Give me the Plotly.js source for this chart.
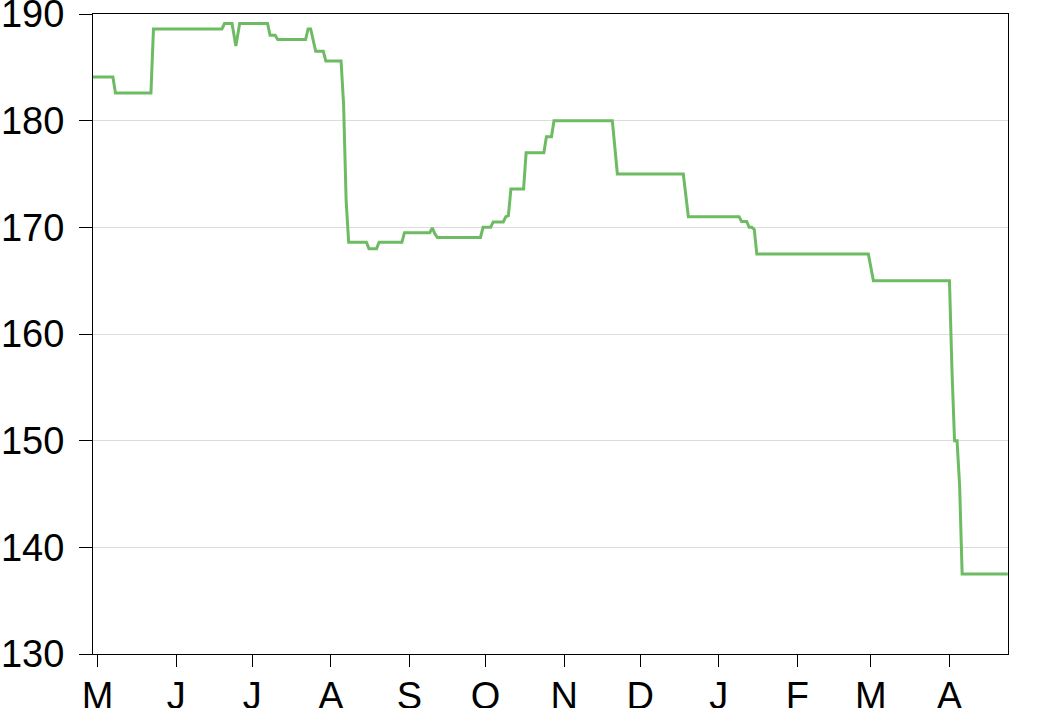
<!DOCTYPE html>
<html>
<head>
<meta charset="utf-8">
<script src="https://cdn.plot.ly/plotly-3.0.1.min.js"></script>
<style>
  html, body { margin: 0; padding: 0; background: #ffffff; }
  #chart { width: 1040px; height: 708px; }
</style>
</head>
<body>
<div id="chart"></div>
<script>
// Daily price path: dates where the level changes, with the level on each date
const dates = [
  "2023-04-29", "2023-05-07", "2023-05-08", "2023-05-22", "2023-05-23",
  "2023-06-19", "2023-06-20", "2023-06-23", "2023-06-24 12:00", "2023-06-26",
  "2023-07-07", "2023-07-08", "2023-07-10", "2023-07-11", "2023-07-22",
  "2023-07-23", "2023-07-24", "2023-07-25", "2023-07-26", "2023-07-29",
  "2023-07-30", "2023-08-05", "2023-08-06", "2023-08-07", "2023-08-08",
  "2023-08-15", "2023-08-16", "2023-08-19", "2023-08-20", "2023-08-29",
  "2023-08-30", "2023-09-09", "2023-09-10", "2023-09-11", "2023-09-12",
  "2023-09-29", "2023-09-30", "2023-10-03", "2023-10-04", "2023-10-08",
  "2023-10-09", "2023-10-10", "2023-10-11", "2023-10-16", "2023-10-17",
  "2023-10-24", "2023-10-25", "2023-10-27", "2023-10-28", "2023-11-20",
  "2023-11-22", "2023-12-18", "2023-12-20", "2024-01-09", "2024-01-10",
  "2024-01-12", "2024-01-13", "2024-01-14", "2024-01-15", "2024-01-16",
  "2024-02-29", "2024-03-02", "2024-04-01", "2024-04-02", "2024-04-03",
  "2024-04-04", "2024-04-05", "2024-04-06", "2024-04-24"
];
const values = [
  184.1, 184.1, 182.6, 182.6, 188.6,
  188.6, 189.1, 189.1, 187.0, 189.1,
  189.1, 188.0, 188.0, 187.6, 187.6,
  188.6, 188.6, 187.5, 186.5, 186.5,
  185.6, 185.6, 181.5, 172.5, 168.6,
  168.6, 168.0, 168.0, 168.6, 168.6,
  169.5, 169.5, 169.95, 169.4, 169.05,
  169.05, 170.0, 170.0, 170.5, 170.5,
  171.0, 171.1, 173.6, 173.6, 177.0,
  177.0, 178.5, 178.5, 180.0, 180.0,
  175.0, 175.0, 171.0, 171.0, 170.55,
  170.55, 170.0, 170.0, 169.8, 167.5,
  167.5, 165.0, 165.0, 156.5, 150.0,
  150.0, 145.8, 137.5, 137.5
];

// Month ticks along the bottom, labelled by initial
const monthTicks = [
  "2023-05-01", "2023-06-01", "2023-07-01", "2023-08-01", "2023-09-01", "2023-10-01",
  "2023-11-01", "2023-12-01", "2024-01-01", "2024-02-01", "2024-03-01", "2024-04-01"
];
const monthLabels = ["M", "J", "J", "A", "S", "O", "N", "D", "J", "F", "M", "A"];

const yTicks = [130, 140, 150, 160, 170, 180, 190];

const trace = {
  type: "scatter",
  mode: "lines",
  x: dates,
  y: values,
  line: { color: "#6dbb63", width: 3 },
  hoverinfo: "x+y"
};

const layout = {
  width: 1040,
  height: 708,
  margin: { l: 93, r: 32, t: 14, b: 54, pad: 0 },
  paper_bgcolor: "#ffffff",
  plot_bgcolor: "#ffffff",
  showlegend: false,
  font: { family: "Liberation Sans, Arial, sans-serif", size: 38, color: "#000000" },
  xaxis: {
    type: "date",
    range: ["2023-04-29 03:30", "2024-04-24 02:10"],
    tickmode: "array",
    tickvals: monthTicks,
    ticktext: monthLabels,
    ticks: "outside",
    ticklen: 12,
    tickwidth: 1,
    tickcolor: "#000000",
    ticklabeloverflow: "allow",
    ticklabelstandoff: -4,
    showgrid: false,
    zeroline: false,
    showline: true,
    linecolor: "#000000",
    linewidth: 1,
    mirror: true,
    automargin: false,
    tickfont: { size: 38, color: "#000000" }
  },
  yaxis: {
    range: [130, 190],
    tickmode: "array",
    tickvals: yTicks,
    ticks: "outside",
    ticklen: 13,
    tickwidth: 1,
    tickcolor: "#000000",
    ticklabeloverflow: "allow",
    ticklabelstandoff: 7,
    showgrid: true,
    gridcolor: "#dcdcdc",
    gridwidth: 1,
    zeroline: false,
    showline: true,
    linecolor: "#000000",
    linewidth: 1,
    mirror: true,
    automargin: false,
    tickfont: { size: 38, color: "#000000" }
  }
};

Plotly.newPlot("chart", [trace], layout, { staticPlot: true, displayModeBar: false });
</script>
</body>
</html>
